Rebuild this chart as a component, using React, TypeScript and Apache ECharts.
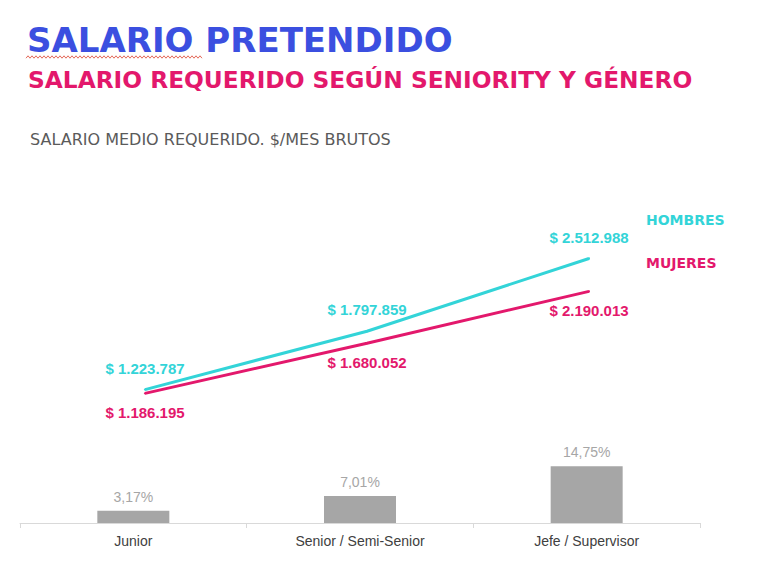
import React, { useEffect, useRef } from "react";
import * as echarts from "echarts";

const categories = ["Junior", "Senior / Semi-Senior", "Jefe / Supervisor"];
const hombres = [1223787, 1797859, 2512988];
const mujeres = [1186195, 1680052, 2190013];
const brecha = [3.17, 7.01, 14.75];

const CYAN = "#33d4d8";
const MAGENTA = "#e3186c";

const fmtMoney = (v: number) =>
  "$ " + String(Math.round(v)).replace(/\B(?=(\d{3})+(?!\d))/g, ".");
const fmtPct = (v: number) => v.toFixed(2).replace(".", ",") + "%";

const squiggle: number[][] = [];
for (let i = 0; i <= 88; i++) {
  squiggle.push([26 + i * 2, 57 + (i % 2 === 0 ? 1.2 : -1.2)]);
}

export default function App() {
  const ref = useRef<HTMLDivElement>(null);
  useEffect(() => {
    if (!ref.current) return;
    const chart = echarts.init(ref.current, undefined, { renderer: "svg" });
    chart.setOption({
      animation: false,
      backgroundColor: "#ffffff",
      graphic: [
        {
          type: "text",
          x: 27,
          y: 40,
          style: {
            text: "SALARIO PRETENDIDO",
            font: "bold 34px 'DejaVu Sans'",
            fill: "#3b4fe0",
            verticalAlign: "middle",
          },
        },
        {
          type: "polyline",
          shape: { points: squiggle },
          style: { stroke: "#e46a5a", lineWidth: 1, fill: "none" },
        },
        {
          type: "text",
          x: 28,
          y: 79,
          style: {
            text: "SALARIO REQUERIDO SEGÚN SENIORITY Y GÉNERO",
            font: "bold 23.3px 'DejaVu Sans'",
            fill: MAGENTA,
            verticalAlign: "middle",
          },
        },
        {
          type: "text",
          x: 30,
          y: 139,
          style: {
            text: "SALARIO MEDIO REQUERIDO. $/MES BRUTOS",
            font: "16px 'DejaVu Sans'",
            fill: "#5a5a5a",
            verticalAlign: "middle",
          },
        },
        {
          type: "text",
          x: 646,
          y: 220,
          style: {
            text: "HOMBRES",
            font: "bold 14px 'DejaVu Sans'",
            fill: CYAN,
            verticalAlign: "middle",
          },
        },
        {
          type: "text",
          x: 646,
          y: 263,
          style: {
            text: "MUJERES",
            font: "bold 14px 'DejaVu Sans'",
            fill: MAGENTA,
            verticalAlign: "middle",
          },
        },
      ],
      grid: [
        { left: 20, width: 680, top: 446, height: 77, containLabel: false },
        { left: 34, width: 666, top: 209, height: 305, containLabel: false },
      ],
      xAxis: [
        {
          type: "category",
          gridIndex: 0,
          data: categories,
          axisLine: { lineStyle: { color: "#d9d9d9", width: 1 } },
          axisTick: { show: true, length: 5, lineStyle: { color: "#d9d9d9" } },
          axisLabel: {
            color: "#404040",
            fontSize: 14,
            fontFamily: "Liberation Sans",
            margin: 11,
          },
        },
        {
          type: "category",
          gridIndex: 1,
          data: categories,
          show: false,
        },
      ],
      yAxis: [
        { type: "value", gridIndex: 0, min: 0, max: 20, show: false },
        { type: "value", gridIndex: 1, min: 0, max: 3000000, show: false },
      ],
      series: [
        {
          type: "bar",
          xAxisIndex: 0,
          yAxisIndex: 0,
          data: brecha,
          barWidth: 72,
          itemStyle: { color: "#a6a6a6" },
          label: {
            show: true,
            position: "top",
            distance: 7,
            color: "#a6a6a6",
            fontSize: 14,
            fontFamily: "Liberation Sans",
            formatter: (p: any) => fmtPct(p.value),
          },
        },
        {
          type: "line",
          name: "HOMBRES",
          xAxisIndex: 1,
          yAxisIndex: 1,
          data: hombres,
          symbol: "circle",
          symbolSize: 2,
          itemStyle: { color: CYAN },
          lineStyle: { color: CYAN, width: 3 },
          label: {
            show: true,
            position: "top",
            distance: 13,
            color: CYAN,
            fontSize: 15,
            fontWeight: "bold",
            fontFamily: "Liberation Sans",
            formatter: (p: any) => fmtMoney(p.value),
          },
        },
        {
          type: "line",
          name: "MUJERES",
          xAxisIndex: 1,
          yAxisIndex: 1,
          data: mujeres,
          symbol: "circle",
          symbolSize: 2,
          itemStyle: { color: MAGENTA },
          lineStyle: { color: MAGENTA, width: 3 },
          label: {
            show: true,
            position: "bottom",
            distance: 11,
            color: MAGENTA,
            fontSize: 15,
            fontWeight: "bold",
            fontFamily: "Liberation Sans",
            formatter: (p: any) => fmtMoney(p.value),
          },
        },
      ],
    });
    return () => chart.dispose();
  }, []);
  return (
    <div
      ref={ref}
      style={{ position: "absolute", left: 0, top: 0, width: 780, height: 576 }}
    />
  );
}
